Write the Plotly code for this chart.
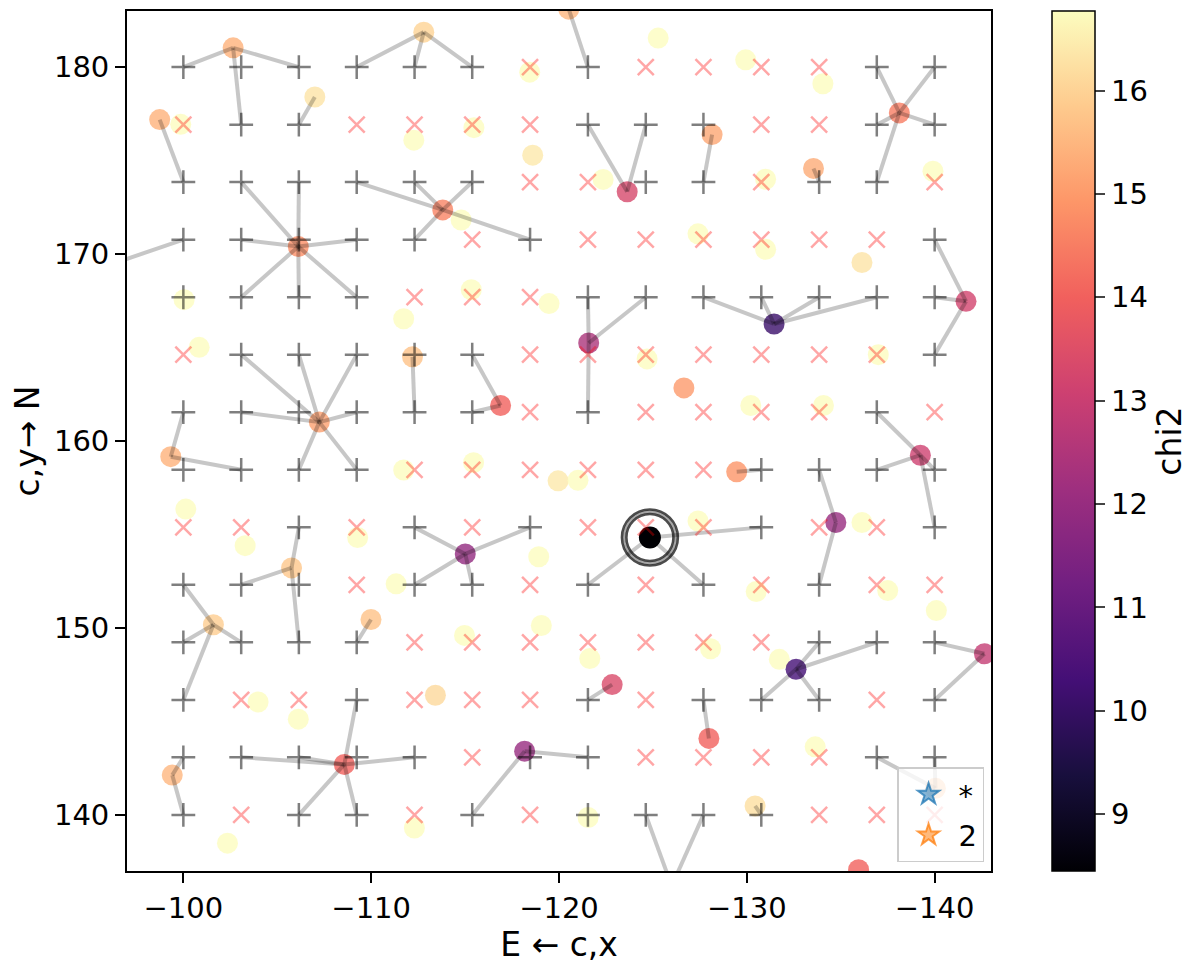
import plotly.graph_objects as go

# ---------------- data ----------------
grid_x = [-100.0, -103.08, -106.15, -109.23, -112.31, -115.38, -118.46,
          -121.54, -124.62, -127.69, -130.77, -133.85, -136.92, -140.0]
grid_y = [140.0, 143.08, 146.15, 149.23, 152.31, 155.38, 158.46,
          161.54, 164.62, 167.69, 170.77, 173.85, 176.92, 180.0]
# rows from bottom (y=140) to top (y=180); '+' matched, 'x' unmatched
grid_flags = [
    "+x++x+x++++xxx",
    "+++++x++xxxx++",
    "+xx+xxx+x+++x+",
    "++++xxxxxxx+++",
    "+++x++x+x+x+xx",
    "xx+x+x+xxx+xx+",
    "++++xxxxxx++++",
    "++++++x+xxxx+x",
    "x+++++xxxxxxx+",
    "++++xxx+++++++",
    "+++++x+xxxxxx+",
    "++++++xx++x++x",
    "x++xxxx+++xx++",
    "++++++x+xxxx++",
]

src_x = [-102.65, -98.74, -99.86, -107.0, -112.27, -112.8, -106.12, -96.0, -113.81, -114.79,
         -118.44, -115.47, -118.6, -120.52, -125.28, -122.35, -123.63, -128.15, -127.4, -115.33,
         -119.47, -129.94, -134.05, -138.12, -133.55, -131.0, -139.91, -131.0, -136.13, -141.67,
         -131.45, -137.0, -130.21, -134.08, -139.24, -129.46, -134.74, -136.13, -127.4, -124.84,
         -130.5, -137.5, -121.58, -124.69, -126.65, -112.2, -116.89, -115.45, -119.95, -121.01,
         -115.01, -118.92, -100.04, -111.73, -100.84, -107.24, -99.33, -111.73, -100.13, -103.29,
         -109.28, -105.76, -111.33, -101.6, -109.99, -103.98, -106.12, -108.57, -99.41, -102.35,
         -112.3, -114.97, -119.06, -121.64, -113.42, -122.83, -128.07, -127.98, -118.17, -121.55,
         -140.09, -131.73, -132.62, -142.65, -133.64, -140.04, -130.44, -135.95, -126.0]
src_y = [181.03, 177.19, 176.94, 178.4, 176.09, 181.87, 170.4, 169.4, 172.36, 171.82,
         179.73, 176.76, 175.29, 183.1, 181.55, 173.99, 173.33, 176.39, 171.08, 168.09,
         167.35, 180.39, 179.11, 177.55, 174.58, 174.0, 174.43, 170.25, 169.55, 167.47,
         166.26, 164.62, 161.9, 161.9, 159.24, 158.35, 155.64, 155.64, 155.72, 154.84,
         151.95, 152.0, 165.24, 164.39, 162.84, 164.5, 161.9, 158.84, 157.87, 157.9,
         153.96, 153.81, 167.56, 166.54, 165.01, 161.01, 159.16, 158.45, 156.36, 154.4,
         154.84, 153.21, 152.36, 150.17, 150.45, 146.04, 145.12, 142.7, 142.13, 138.49,
         139.3, 149.6, 150.13, 148.36, 146.4, 146.97, 148.89, 144.09, 143.41, 139.86,
         150.93, 148.32, 147.79, 148.62, 143.64, 141.42, 140.48, 137.07, 136.2]
src_chi2 = [15.4, 15.4, 16.8, 16.3, 16.8, 16.0, 14.8, 15.2, 14.6, 16.8,
            16.8, 16.8, 16.4, 15.5, 16.8, 16.8, 13.3, 15.2, 16.8, 16.8,
            16.8, 16.8, 16.8, 14.5, 15.3, 16.8, 16.8, 16.8, 16.3, 13.2,
            10.1, 16.8, 16.8, 16.8, 13.1, 14.9, 12.0, 16.8, 16.8, 8.45,
            16.8, 16.8, 12.4, 16.8, 15.0, 15.7, 14.0, 16.8, 16.4, 16.8,
            11.9, 16.8, 16.8, 16.8, 16.8, 15.1, 15.4, 16.8, 16.8, 16.8,
            16.8, 15.8, 16.8, 15.9, 15.7, 16.8, 16.8, 14.0, 15.5, 16.8,
            16.8, 16.8, 16.8, 16.8, 16.1, 13.4, 16.8, 14.0, 12.0, 16.8,
            16.8, 16.8, 10.3, 12.9, 16.8, 15.5, 16.2, 14.0, 14.0]
best_idx = 39

# (source index, grid column, grid row)
matches = [
    (0, 0, 13), (0, 2, 13), (0, 1, 12),
    (1, 0, 11),
    (3, 2, 12),
    (5, 3, 13), (5, 4, 13), (5, 5, 13),
    (6, 1, 11), (6, 2, 11), (6, 1, 10), (6, 3, 10), (6, 1, 9), (6, 2, 9), (6, 3, 9),
    (7, 0, 10),
    (8, 3, 11), (8, 4, 11), (8, 5, 11), (8, 4, 10), (8, 6, 10),
    (13, 7, 13),
    (16, 7, 12), (16, 8, 12),
    (17, 9, 11),
    (23, 12, 13), (23, 13, 13), (23, 12, 12), (23, 13, 12), (23, 12, 11),
    (24, 11, 11),
    (29, 13, 10), (29, 13, 9), (29, 13, 8),
    (30, 9, 9), (30, 10, 9), (30, 11, 9), (30, 12, 9),
    (34, 12, 7), (34, 12, 6), (34, 13, 6), (34, 13, 5),
    (35, 10, 6),
    (36, 11, 6), (36, 11, 4),
    (39, 10, 5), (39, 7, 4), (39, 9, 4),
    (42, 7, 9), (42, 8, 9), (42, 7, 7),
    (45, 4, 7),
    (46, 5, 8), (46, 5, 7),
    (50, 4, 5), (50, 6, 5), (50, 4, 4), (50, 5, 4),
    (55, 1, 8), (55, 2, 8), (55, 3, 8), (55, 1, 7), (55, 3, 7), (55, 2, 6), (55, 3, 6),
    (56, 0, 7), (56, 1, 6),
    (61, 2, 5), (61, 1, 4), (61, 2, 3),
    (63, 0, 4), (63, 0, 3), (63, 1, 3), (63, 0, 2),
    (64, 3, 3),
    (67, 3, 2), (67, 1, 1), (67, 2, 1), (67, 4, 1), (67, 2, 0), (67, 3, 0),
    (68, 0, 1), (68, 0, 0),
    (75, 7, 2),
    (77, 9, 2),
    (78, 5, 0), (78, 7, 1),
    (82, 11, 3), (82, 12, 3), (82, 10, 2), (82, 11, 2),
    (83, 13, 3), (83, 13, 2),
    (85, 12, 1), (85, 13, 1),
    (86, 10, 0),
    (88, 8, 0), (88, 9, 0),
]

legend_labels = ["*", "2"]
legend_colors = ["rgba(31,119,180,0.55)", "rgba(255,127,14,0.55)"]
legend_edges = ["rgba(31,119,180,0.75)", "rgba(255,127,14,0.75)"]

cmin, cmax = 8.45, 16.77
FONT = "DejaVu Sans"
FS = 29      # tick labels
FL = 33      # axis / colorbar labels

# ---------------- figure ----------------
fig = go.Figure()

# sources coloured by chi2
fig.add_trace(go.Scatter(
    x=src_x, y=src_y, mode="markers", showlegend=False, hoverinfo="skip",
    marker=dict(size=21, color=src_chi2, colorscale="Magma", cmin=cmin, cmax=cmax,
                opacity=0.8, line=dict(width=0),
                showscale=True,
                colorbar=dict(x=1.0705, xanchor="left", y=0.5, yanchor="middle",
                              len=1.0, lenmode="fraction", thickness=43, ypad=0, xpad=0,
                              outlinewidth=1.5, outlinecolor="black",
                              tickvals=[9, 10, 11, 12, 13, 14, 15, 16],
                              ticks="outside", ticklen=10, tickwidth=2,
                              tickfont=dict(family=FONT, size=FS, color="black"),
                              title=dict(text="chi2", side="right",
                                         font=dict(family=FONT, size=FL, color="black"))))))

# best source, opaque, with rings
bx, by = src_x[best_idx], src_y[best_idx]
fig.add_trace(go.Scatter(x=[bx], y=[by], mode="markers", showlegend=False, hoverinfo="skip",
                         marker=dict(size=22, color=[src_chi2[best_idx]], colorscale="Magma",
                                     cmin=cmin, cmax=cmax, line=dict(width=0))))
for sz, w, c in [(56, 2.5, "rgba(0,0,0,0.7)"), (51.5, 3, "rgba(0,0,0,0.35)"),
                 (47, 2.5, "rgba(0,0,0,0.7)")]:
    fig.add_trace(go.Scatter(x=[bx], y=[by], mode="markers", showlegend=False, hoverinfo="skip",
                             marker=dict(symbol="circle-open", size=sz, color=c,
                                         line=dict(width=w, color=c))))

# match lines (one trace per segment so overlaps darken)
for s, i, j in matches:
    fig.add_trace(go.Scatter(x=[grid_x[i], src_x[s]], y=[grid_y[j], src_y[s]], mode="lines",
                             showlegend=False, hoverinfo="skip",
                             line=dict(color="rgba(0,0,0,0.22)", width=4)))

# grid markers
px_, py_, xx_, xy_ = [], [], [], []
for j, row in enumerate(grid_flags):
    for i, f in enumerate(row):
        if f == "+":
            px_.append(grid_x[i]); py_.append(grid_y[j])
        else:
            xx_.append(grid_x[i]); xy_.append(grid_y[j])
fig.add_trace(go.Scatter(x=xx_, y=xy_, mode="markers", showlegend=False, hoverinfo="skip",
                         marker=dict(symbol="x-thin", size=16, color="rgba(255,0,0,0.35)",
                                     line=dict(width=2.5, color="rgba(255,0,0,0.35)"))))
fig.add_trace(go.Scatter(x=px_, y=py_, mode="markers", showlegend=False, hoverinfo="skip",
                         marker=dict(symbol="cross-thin", size=17, color="rgba(0,0,0,0.5)",
                                     line=dict(width=2.5, color="rgba(0,0,0,0.5)"))))

# legend entries
for lab, col, edge in zip(legend_labels, legend_colors, legend_edges):
    fig.add_trace(go.Scatter(x=[None], y=[None], mode="markers", name=lab,
                             marker=dict(symbol="star", size=26, color=col,
                                         line=dict(width=2, color=edge))))

axis_common = dict(showgrid=False, zeroline=False, showline=True, linecolor="black",
                   linewidth=1.8, mirror=True, ticks="outside", ticklen=10, tickwidth=2,
                   tickcolor="black",
                   tickfont=dict(family=FONT, size=FS, color="black"))

# page body has an 8px margin: size the figure so it fits the 1200x969 window
fig.update_layout(
    width=1192, height=961,
    paper_bgcolor="white", plot_bgcolor="white",
    margin=dict(l=119, r=209, t=1, b=98),
    font=dict(family=FONT, size=FS, color="black"),
    xaxis=dict(range=[-97.0, -143.0], tickvals=[-100, -110, -120, -130, -140],
               ticktext=["\u2212100", "\u2212110", "\u2212120", "\u2212130", "\u2212140"],
               title=dict(text="E \u2190 c,x", standoff=8,
                          font=dict(family=FONT, size=FL, color="black")),
               **axis_common),
    yaxis=dict(range=[137.0, 183.0], tickvals=[140, 150, 160, 170, 180],
               title=dict(text="c,y\u2192 N", standoff=10,
                          font=dict(family=FONT, size=FL, color="black")),
               **axis_common),
    legend=dict(x=0.992, y=0.01, xanchor="right", yanchor="bottom",
                bgcolor="rgba(255,255,255,0.8)", bordercolor="#cccccc", borderwidth=1.5,
                font=dict(family=FONT, size=FS, color="black"),
                itemsizing="trace", itemwidth=50, tracegroupgap=0),
)

fig.write_html("out.html")
